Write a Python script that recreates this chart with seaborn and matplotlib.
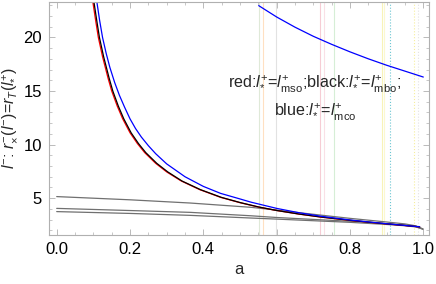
import numpy as np
import pandas as pd
import matplotlib
matplotlib.use("Agg")
import matplotlib.pyplot as plt
from matplotlib.ticker import MultipleLocator
import seaborn as sns

sns.set_style("ticks")
plt.rcParams['font.family'] = ['Liberation Sans', 'DejaVu Sans']
plt.rcParams['mathtext.fontset'] = 'custom'
plt.rcParams['mathtext.rm'] = 'Liberation Sans'
plt.rcParams['mathtext.it'] = 'Liberation Sans:italic'

# ---- data ----
a_red = [0.099, 0.107, 0.1135, 0.125, 0.14, 0.15, 0.165, 0.18, 0.20, 0.22, 0.24, 0.27, 0.30,
         0.34, 0.39, 0.447, 0.50, 0.55, 0.60, 0.66, 0.72, 0.80, 0.85, 0.90, 0.95, 0.99]
y_red = [23.2, 21.4, 20.0, 18.2, 16.2, 15.0, 13.6, 12.4, 11.1, 10.1, 9.25, 8.25, 7.45,
         6.6, 5.8, 5.08, 4.58, 4.18, 3.85, 3.52, 3.24, 2.93, 2.76, 2.6, 2.45, 2.32]

a_black = [0.102, 0.110, 0.1165, 0.128, 0.143, 0.153, 0.168, 0.183, 0.203, 0.223, 0.243, 0.273,
           0.303, 0.342, 0.392, 0.449, 0.502, 0.551, 0.601, 0.66, 0.72, 0.80, 0.85, 0.90, 0.95, 0.99]
y_black = [23.2, 21.4, 20.0, 18.2, 16.2, 15.0, 13.6, 12.4, 11.1, 10.1, 9.25, 8.25,
           7.45, 6.6, 5.8, 5.08, 4.58, 4.18, 3.85, 3.53, 3.25, 2.94, 2.77, 2.61, 2.46, 2.33]

a_blue = [0.110, 0.117, 0.125, 0.135, 0.145, 0.158, 0.171, 0.185, 0.20, 0.215, 0.231, 0.25,
          0.27, 0.30, 0.35, 0.40, 0.447, 0.50, 0.53, 0.60, 0.66, 0.72, 0.80, 0.85, 0.90, 0.95, 0.99]
y_blue = [23.2, 21.6, 20.0, 18.5, 17.2, 15.8, 14.6, 13.5, 12.4, 11.5, 10.7, 9.9,
          9.15, 8.2, 7.0, 6.1, 5.45, 4.93, 4.63, 4.05, 3.65, 3.32, 2.97, 2.79, 2.62, 2.46, 2.33]

a_blue_top = [0.551, 0.60, 0.65, 0.70, 0.75, 0.80, 0.85, 0.90, 0.95, 1.0]
y_blue_top = [22.96, 21.9, 20.95, 20.1, 19.35, 18.65, 18.0, 17.4, 16.85, 16.3]

a_gray = [0.0, 0.2, 0.364, 0.53, 0.60, 0.70, 0.80, 0.90, 0.95, 0.98, 0.999]
y_gray1 = [5.15, 4.85, 4.55, 4.15, 3.89, 3.5, 3.12, 2.78, 2.6, 2.42, 2.13]
y_gray2 = [4.05, 3.85, 3.68, 3.36, 3.2, 3.02, 2.85, 2.62, 2.48, 2.35, 2.12]
y_gray3 = [3.75, 3.58, 3.4, 3.15, 3.05, 2.9, 2.75, 2.55, 2.43, 2.32, 2.11]

vlines_a = [0.552, 0.564, 0.598, 0.719, 0.728, 0.757, 0.887, 0.892, 0.909, 0.975, 0.986]
vlines_color = ['#dfe9d8', '#ffe0c2', '#e2e2e2', '#f6ccd4', '#f9e0e6', '#d6eed6',
                '#f8f3b8', '#fbf8d0', '#6cc6d2', '#f6ee9c', '#e2e2e2']
vlines_style = ['-', '-', '-', '-', '-', '-', '-', '-', ':', ':', ':']

fig, ax = plt.subplots(figsize=(4.36, 2.84), dpi=100)
fig.subplots_adjust(left=0.1124, right=0.984, top=0.993, bottom=0.173)

for xv, c, ls in zip(vlines_a, vlines_color, vlines_style):
    ax.axvline(xv, color=c, lw=0.8, ls=ls, zorder=1)

for yy in (y_gray1, y_gray2, y_gray3):
    sns.lineplot(x=a_gray, y=yy, color='#707070', lw=0.9, sort=False, ax=ax)

sns.lineplot(x=a_red, y=y_red, color='#ff0000', lw=0.9, sort=False, ax=ax)
sns.lineplot(x=a_black, y=y_black, color='#000000', lw=0.9, sort=False, ax=ax)
sns.lineplot(x=a_blue, y=y_blue, color='#0000ff', lw=0.9, sort=False, ax=ax)
sns.lineplot(x=a_blue_top, y=y_blue_top, color='#0000ff', lw=0.9, sort=False, ax=ax)

ax.set_xlim(-0.021, 1.0156)
ax.set_ylim(1.58, 23.3)
ax.xaxis.set_major_locator(MultipleLocator(0.2))
ax.xaxis.set_minor_locator(MultipleLocator(0.05))
ax.yaxis.set_major_locator(MultipleLocator(5))
ax.yaxis.set_minor_locator(MultipleLocator(1))
ax.tick_params(which='both', direction='in', top=True, right=True, color='#b0b0b0',
               labelsize=12, labelcolor='black', pad=5)
ax.tick_params(which='major', length=4, width=0.6)
ax.tick_params(which='minor', length=2.5, width=0.5)
ax.tick_params(axis='x', labeltop=False)
ax.tick_params(axis='y', labelright=False)
for sp in ax.spines.values():
    sp.set_color('#b0b0b0')
    sp.set_linewidth(0.8)

ax.set_xlabel('a', fontsize=12, labelpad=4)
ax.set_ylabel(r'$l^{-}$: $r_{\times}^{-}(l^{-})$=$r_{T}(l_{*}^{+})$', fontsize=11.5, labelpad=3)

ax.text(0.70, 0.644, r'red:$l_{*}^{+}$=$l_{\rm mso}^{+}$;black:$l_{*}^{+}$=$l_{\rm mbo}^{+}$;',
        transform=ax.transAxes, ha='center', va='center', fontsize=11.6)
ax.text(0.70, 0.525, r'blue:$l_{*}^{+}$=$l_{\rm mco}^{+}$',
        transform=ax.transAxes, ha='center', va='center', fontsize=11.6)

plt.savefig('out.png', dpi=100)
